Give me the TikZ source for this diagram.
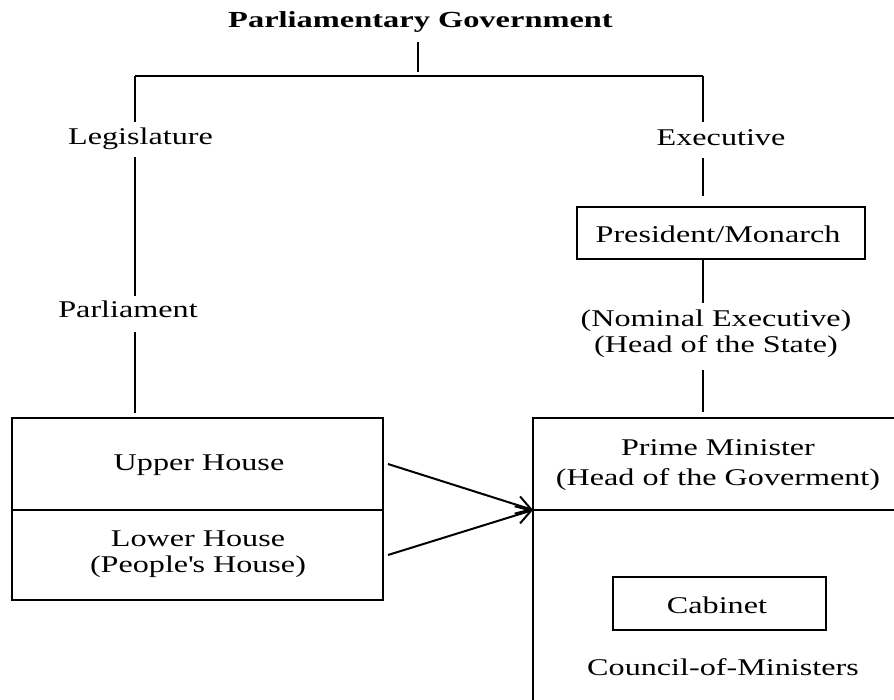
\documentclass[tikz,border=0pt]{standalone}
\usepackage{fontspec}
\setmainfont{Liberation Serif}
\newfontfamily\lblfont[FakeStretch=1.34]{Liberation Serif}
\newfontfamily\ttlfont[FakeStretch=1.41]{Liberation Serif}
\usetikzlibrary{arrows.meta}
\begin{document}
\begin{tikzpicture}[x=1pt,y=-1pt,line width=2pt,
  lbl/.style={font=\lblfont\fontsize{24}{26}\selectfont,inner sep=0pt,align=center},
  ttl/.style={font=\ttlfont\fontsize{23}{26}\selectfont\bfseries,inner sep=0pt},
  bx/.style={draw,inner sep=0pt},
  arr/.style={-{Straight Barb[length=14.5pt,width=18pt,line width=2pt]}}]
\useasboundingbox (0,0) rectangle (894,700);
\node[ttl,anchor=base] (title) at (420.5,28) {Parliamentary Government};
\coordinate (T1) at (418,42);
\coordinate (T2) at (418,72);
\coordinate (L0) at (135,76);
\coordinate (R0) at (703,76);
\draw (L0) -- (R0);
\draw (T1) -- (T2);
% left
\node[lbl,anchor=base] (leg) at (140.5,145) {Legislature};
\node[lbl,anchor=base] (parl) at (128,318) {Parliament};
\coordinate (L1) at (135,122);
\coordinate (L2) at (135,157);
\coordinate (L3) at (135,296);
\coordinate (L4) at (135,332);
\coordinate (L5) at (135,413);
\draw (L0) -- (L1);
\draw (L2) -- (L3);
\draw (L4) -- (L5);
\node[bx,minimum width=371pt,minimum height=92pt] (upper) at (197.5,464) {};
\node[bx,minimum width=371pt,minimum height=90pt] (lower) at (197.5,555) {};
\node[lbl,anchor=base] (uppert) at (199,470) {Upper House};
\node[lbl] (lowert) at (198,554) {Lower House\\(People\textquotesingle s House)};
% right
\node[lbl,anchor=base] (exe) at (721,146) {Executive};
\coordinate (R1) at (703,122);
\coordinate (R2) at (703,158);
\coordinate (R3) at (703,196);
\draw (R0) -- (R1);
\draw (R2) -- (R3);
\node[bx,minimum width=288pt,minimum height=52pt] (pres) at (721,233) {};
\node[lbl,anchor=base] (prest) at (718,243) {President/Monarch};
\coordinate (R4) at (703,259);
\coordinate (R5) at (703,303);
\draw (R4) -- (R5);
\node[lbl] (nom) at (716,334) {(Nominal Executive)\\(Head of the State)};
\coordinate (R6) at (703,370);
\coordinate (R7) at (703,412);
\draw (R6) -- (R7);
\coordinate (BTL) at (533,418);
\coordinate (BTR) at (894,418);
\coordinate (BML) at (533,510);
\coordinate (BMR) at (894,510);
\coordinate (BBL) at (533,700);
\draw (BTR) -- (BTL) -- (BBL);
\draw (BML) -- (BMR);
\node[lbl,font=\lblfont\fontsize{24}{30}\selectfont] (pm) at (718,465) {Prime Minister\\(Head of the Goverment)};
\node[bx,minimum width=213pt,minimum height=53pt] (cab) at (719.5,603.5) {};
\node[lbl,anchor=base] (cabt) at (717,613) {Cabinet};
\node[lbl,anchor=base] (com) at (723,675) {Council-of-Ministers};
% arrows
\draw[arr] ([xshift=4pt]upper.east) -- (BML);
\draw[arr] ([xshift=4pt]lower.east) -- (BML);
\end{tikzpicture}
\end{document}
